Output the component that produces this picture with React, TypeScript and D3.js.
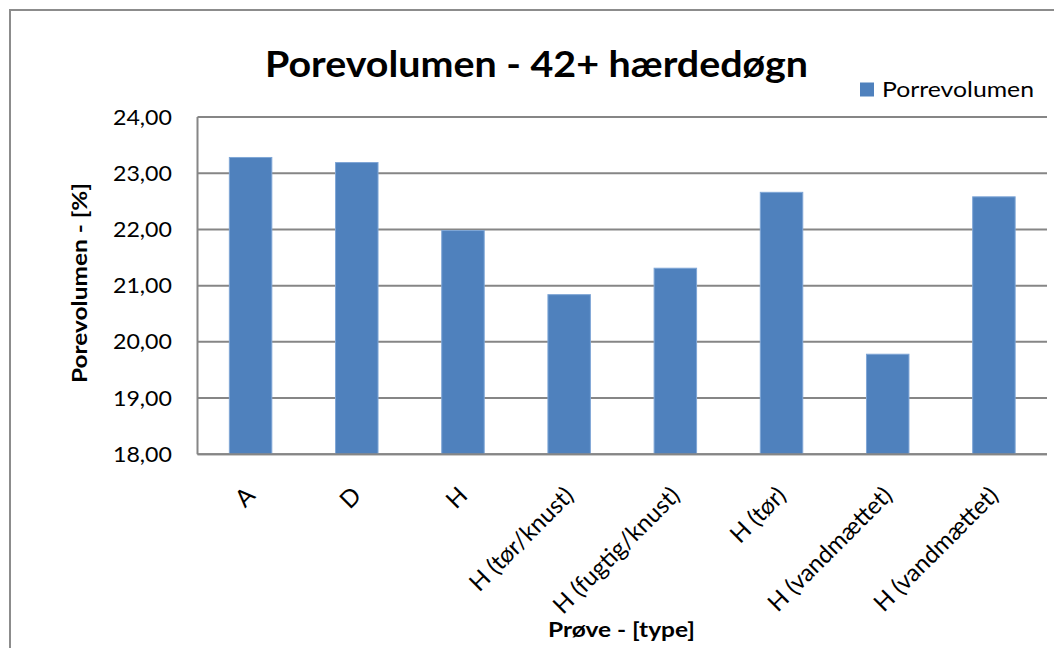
import React from "react";
import * as d3 from "d3";

const categories = ["A", "D", "H", "H (tør/knust)", "H (fugtig/knust)", "H (tør)", "H (vandmættet)", "H (vandmættet)"];
const values = [23.28, 23.19, 21.98, 20.84, 21.31, 22.66, 19.78, 22.58];
const yTicks = [18, 19, 20, 21, 22, 23, 24];
const seriesName = "Porrevolumen";
const title = "Porevolumen - 42+ hærdedøgn";
const yTitle = "Porevolumen - [%]";
const xTitle = "Prøve - [type]";

const W = 1054;
const H = 648;
const FONT = "Lato, 'Open Sans', sans-serif";

export default function App() {
  const left = 197.5, right = 1047, top = 117, bottom = 454.3;
  const x = d3.scaleBand<number>().domain(categories.map((_, i) => i)).range([left, right]).paddingInner(0.6).paddingOuter(0.3);
  const y = d3.scaleLinear().domain([18, 24]).range([bottom, top]);
  const fmt = (v: number) => v.toFixed(2).replace(".", ",");
  const grey = "#868686";
  return (
    <svg width={W} height={H} style={{ position: "absolute", left: 0, top: 0, background: "#fff" }} fontFamily={FONT}>
      <rect x={10} y={10} width={1100} height={700} fill="#fff" stroke="#8c8c8c" strokeWidth={2} />
      <text x={265} y={77} fontSize={37} fontWeight="bold" fill="#000" textLength={543} lengthAdjust="spacingAndGlyphs">{title}</text>
      {yTicks.map((t) => (
        <g key={t}>
          <line x1={left} x2={right} y1={y(t)} y2={y(t)} stroke={grey} strokeWidth={2} />
          <text x={113} y={y(t)} dy="0.36em" fontSize={21} fill="#000" textLength={59} lengthAdjust="spacingAndGlyphs">{fmt(t)}</text>
        </g>
      ))}
      <line x1={left} x2={left} y1={top} y2={bottom} stroke={grey} strokeWidth={2} />
      {values.map((v, i) => (
        <rect key={i} x={x(i)} y={y(v)} width={x.bandwidth()} height={y(18) - y(v)} fill="#4F81BD" stroke="#7fa6d6" strokeWidth={1} />
      ))}
      <line x1={left} x2={right} y1={bottom} y2={bottom} stroke={grey} strokeWidth={2} />
      {categories.map((c, i) => {
        const cx = (x(i) as number) + x.bandwidth() / 2 + 6;
        const cy = 497;
        return (
          <text key={i} transform={`translate(${cx},${cy}) rotate(-45)`} textAnchor="end" fontSize={24} fill="#000">{c}</text>
        );
      })}
      <text transform={`translate(87,283) rotate(-90)`} x={-100} fontSize={21} fontWeight="bold" fill="#000" textLength={200} lengthAdjust="spacingAndGlyphs">{yTitle}</text>
      <text x={548} y={637} fontSize={20} fontWeight="bold" fill="#000" textLength={147} lengthAdjust="spacingAndGlyphs">{xTitle}</text>
      <rect x={860} y={82.5} width={14} height={14} fill="#4F81BD" />
      <text x={882} y={96.5} fontSize={22} fill="#000" textLength={152} lengthAdjust="spacingAndGlyphs">{seriesName}</text>
    </svg>
  );
}
